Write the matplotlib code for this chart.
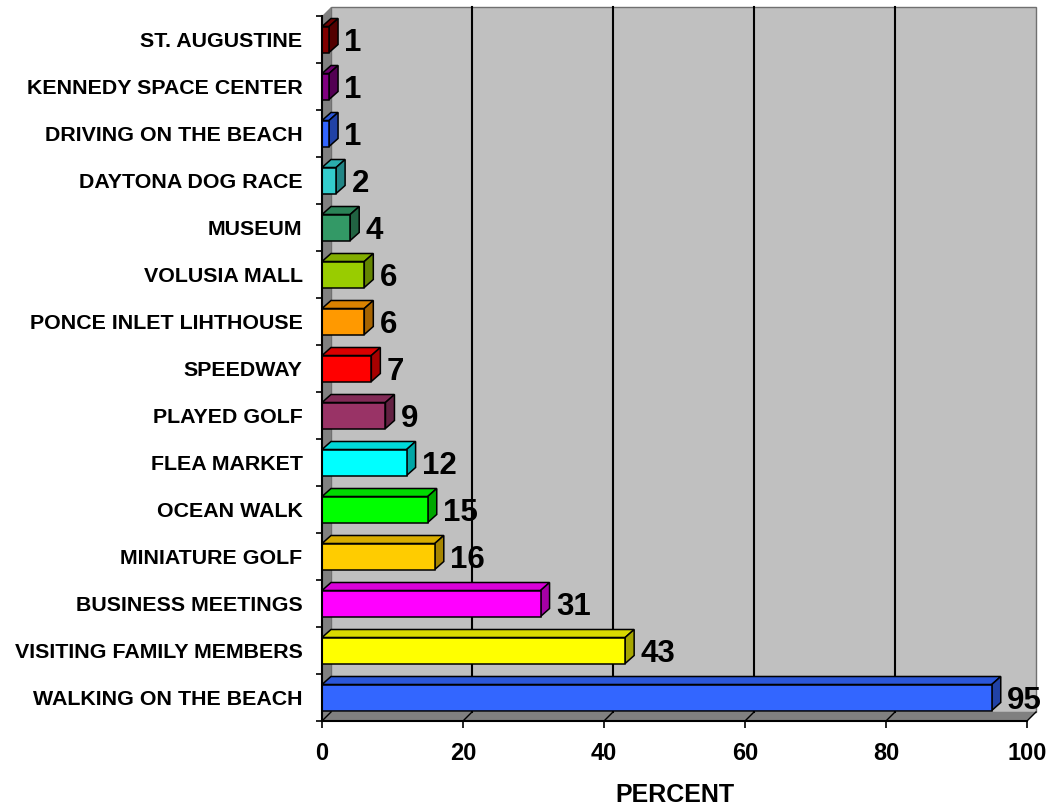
import matplotlib
matplotlib.use("Agg")
import matplotlib.pyplot as plt
from matplotlib.patches import Polygon, Rectangle
from matplotlib.colors import to_rgb

categories = ["ST. AUGUSTINE", "KENNEDY SPACE CENTER", "DRIVING ON THE BEACH",
              "DAYTONA DOG RACE", "MUSEUM", "VOLUSIA MALL", "PONCE INLET LIHTHOUSE",
              "SPEEDWAY", "PLAYED GOLF", "FLEA MARKET", "OCEAN WALK",
              "MINIATURE GOLF", "BUSINESS MEETINGS", "VISITING FAMILY MEMBERS",
              "WALKING ON THE BEACH"]
values = [1, 1, 1, 2, 4, 6, 6, 7, 9, 12, 15, 16, 31, 43, 95]
colors = ["#800000", "#800080", "#3366FF", "#33CCCC", "#339966", "#99CC00",
          "#FF9900", "#FF0000", "#993366", "#00FFFF", "#00FF00", "#FFCC00",
          "#FF00FF", "#FFFF00", "#3366FF"]
xticks = [0, 20, 40, 60, 80, 100]

FONT = "Liberation Sans"
W, H = 1054, 808
fig = plt.figure(figsize=(W / 100, H / 100), dpi=100)
# axes = front plane of the 3d box
ax = fig.add_axes([322 / W, (H - 721) / H, 705 / W, 705 / H])
n = len(categories)
ax.set_xlim(0, 100)
ax.set_ylim(0, n)

# depth of the 3d effect in data units
px_x = 100 / 705
px_y = n / 705
dx, dy = 9 * px_x, 9 * px_y
bdx, bdy = 9 * px_x, 8 * px_y

def shade(c, f):
    r, g, b = to_rgb(c)
    return (r * f, g * f, b * f)

# walls
ax.add_patch(Rectangle((dx, dy), 100, n, facecolor="#C0C0C0", edgecolor="#707070",
                       lw=1, clip_on=False, zorder=0))
ax.add_patch(Polygon([(0, 0), (0, n), (dx, n + dy), (dx, dy)], closed=True,
                     facecolor="#808080", edgecolor="none", clip_on=False, zorder=0.5))
ax.add_patch(Polygon([(0, 0), (100, 0), (100 + dx, dy), (dx, dy)], closed=True,
                     facecolor="#808080", edgecolor="none", clip_on=False, zorder=0.5))
for x in xticks:
    if 0 < x < 100:
        ax.plot([x + dx, x + dx], [dy, n + dy], color="black", lw=1.5,
                clip_on=False, zorder=0.6)
    ax.plot([x, x + dx], [0, dy], color="black", lw=1, clip_on=False, zorder=0.6)

# bars, bottom category = index 0
h = 26 * px_y
for i, (cat, v, c) in enumerate(zip(categories[::-1], values[::-1], colors[::-1])):
    yc = i + 0.5
    y0, y1 = yc - h / 2, yc + h / 2
    ax.add_patch(Polygon([(0, y1), (v, y1), (v + bdx, y1 + bdy), (bdx, y1 + bdy)],
                         closed=True, facecolor=shade(c, 0.85), edgecolor="black",
                         lw=1.1, clip_on=False, zorder=2))
    ax.add_patch(Polygon([(v, y0), (v + bdx, y0 + bdy), (v + bdx, y1 + bdy), (v, y1)],
                         closed=True, facecolor=shade(c, 0.65), edgecolor="black",
                         lw=1.1, clip_on=False, zorder=2))
    ax.add_patch(Rectangle((0, y0), v, h, facecolor=c, edgecolor="black",
                           lw=1.1, clip_on=False, zorder=3))
    ax.annotate(str(v), (v, yc), xytext=(11, 0), textcoords="offset points",
                ha="left", va="center_baseline", fontsize=22.5, fontweight="bold",
                family=FONT, zorder=4, annotation_clip=False)

# axes
for s in ["top", "right"]:
    ax.spines[s].set_visible(False)
for s in ["left", "bottom"]:
    ax.spines[s].set_linewidth(1.5)
    ax.spines[s].set_zorder(5)
ax.set_facecolor("none")

ax.set_xticks(xticks)
ax.set_xticklabels([str(x) for x in xticks], fontsize=17, fontweight="bold", family=FONT)
ax.tick_params(axis="x", direction="out", length=5, width=1.2, pad=10)

ax.set_yticks(range(n + 1))
ax.set_yticklabels([])
ax.tick_params(axis="y", which="major", direction="out", length=4.5, width=1.2)
ax.set_yticks([i + 0.5 for i in range(n)], minor=True)
ax.set_yticklabels(categories[::-1], minor=True, fontsize=15.4, fontweight="bold",
                   family=FONT)
ax.tick_params(axis="y", which="minor", length=0, pad=14)

ax.set_xlabel("PERCENT", fontsize=18, fontweight="bold", family=FONT, labelpad=13)

fig.savefig("out.png", dpi=100)
